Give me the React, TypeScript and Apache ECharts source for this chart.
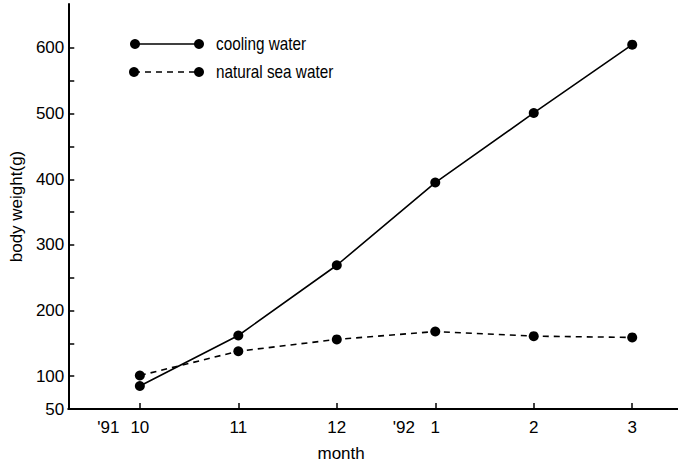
import React, { useEffect, useRef } from "react";
import * as echarts from "echarts";

const months = ["10", "11", "12", "1", "2", "3"];
const coolingWater = [85, 162, 269, 395, 501, 605];
const naturalSeaWater = [101, 138, 156, 168, 161, 159];
const yearLabels = ["'91", "'92"];
const yearStartIndex = [0, 3];
const yTickValues = [100, 150, 200, 250, 300, 350, 400, 450, 500, 550, 600];
const yLabelValues = [50, 100, 200, 300, 400, 500, 600];
const seriesNames = ["cooling water", "natural sea water"];

const FONT = '"Liberation Sans", Arial, sans-serif';
const YEAR_OFFSET = -0.32;

export default function App() {
  const ref = useRef<HTMLDivElement>(null);
  useEffect(() => {
    if (!ref.current) return;
    const chart = echarts.init(ref.current, null, { renderer: "svg" });
    const monthIdx = months.map((_, i) => i);
    const yearPos = yearStartIndex.map((i) => i + YEAR_OFFSET);
    const labelFor = (v: number) => {
      for (let i = 0; i < months.length; i++) if (Math.abs(v - i) < 1e-6) return months[i];
      for (let i = 0; i < yearPos.length; i++) if (Math.abs(v - yearPos[i]) < 1e-6) return yearLabels[i];
      return "";
    };
    const lineStyleBase = { color: "#000", width: 1.6 };
    const legendText = (text: string, y: number) => ({
      type: "text",
      x: 216,
      y,
      scaleX: 0.85,
      style: { text, font: `18px ${FONT}`, fill: "#000", verticalAlign: "middle" },
    });
    chart.setOption({
      animation: false,
      backgroundColor: "#fff",
      grid: { left: 65, right: 0, top: 4, bottom: 60 },
      xAxis: {
        type: "value",
        min: -0.727,
        max: 5.465,
        name: "month",
        nameLocation: "middle",
        nameGap: 36,
        nameTextStyle: { fontFamily: FONT, fontSize: 17, color: "#000", padding: [0, 64, 0, 0] },
        axisLine: { show: true, onZero: false, lineStyle: { color: "#000", width: 2 } },
        axisTick: { show: true, inside: true, length: 6, customValues: monthIdx, lineStyle: { color: "#000", width: 1.5 } },
        axisLabel: {
          customValues: [...yearPos, ...monthIdx],
          formatter: (v: number) => labelFor(v),
          fontFamily: FONT,
          fontSize: 17,
          color: "#000",
          margin: 10,
        },
        splitLine: { show: false },
      },
      yAxis: {
        type: "value",
        min: 50,
        max: 667,
        name: "body weight(g)",
        nameLocation: "middle",
        nameGap: 38,
        nameTextStyle: { fontFamily: FONT, fontSize: 17, color: "#000" },
        axisLine: { show: true, onZero: false, lineStyle: { color: "#000", width: 2 } },
        axisTick: { show: true, inside: true, length: 6, customValues: yTickValues, lineStyle: { color: "#000", width: 1.5 } },
        axisLabel: {
          customValues: yLabelValues,
          fontFamily: FONT,
          fontSize: 17,
          color: "#000",
          margin: 4,
        },
        splitLine: { show: false },
      },
      series: [
        {
          name: seriesNames[0],
          type: "line",
          data: coolingWater.map((v, i) => [i, v]),
          symbol: "circle",
          symbolSize: 10,
          itemStyle: { color: "#000" },
          lineStyle: { ...lineStyleBase, type: "solid" },
          z: 3,
        },
        {
          name: seriesNames[1],
          type: "line",
          data: naturalSeaWater.map((v, i) => [i, v]),
          symbol: "circle",
          symbolSize: 10,
          itemStyle: { color: "#000" },
          lineStyle: { ...lineStyleBase, type: [6, 5] },
          z: 2,
        },
      ],
      graphic: [
        { type: "line", shape: { x1: 135, y1: 44, x2: 199, y2: 44 }, style: { stroke: "#000", lineWidth: 1.6 } },
        { type: "circle", shape: { cx: 135, cy: 44, r: 5 }, style: { fill: "#000" } },
        { type: "circle", shape: { cx: 199, cy: 44, r: 5 }, style: { fill: "#000" } },
        legendText(seriesNames[0], 44),
        { type: "line", shape: { x1: 134, y1: 72, x2: 199, y2: 72 }, style: { stroke: "#000", lineWidth: 1.6, lineDash: [6, 5] } },
        { type: "circle", shape: { cx: 134, cy: 72, r: 5 }, style: { fill: "#000" } },
        { type: "circle", shape: { cx: 199, cy: 72, r: 5 }, style: { fill: "#000" } },
        legendText(seriesNames[1], 72),
      ],
    });
    return () => chart.dispose();
  }, []);
  return <div ref={ref} style={{ width: 678, height: 469, position: "absolute", left: 0, top: 0 }} />;
}
